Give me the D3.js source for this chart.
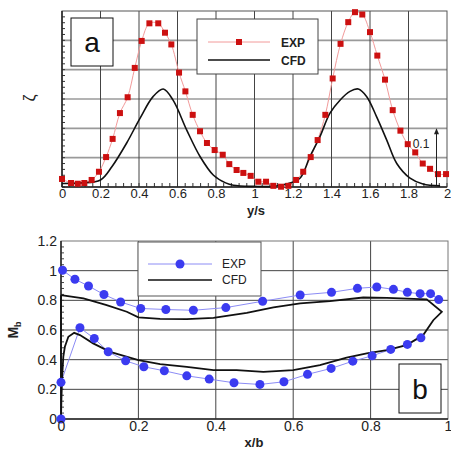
<!DOCTYPE html>
<html>
<head>
<meta charset="utf-8">
<script src="https://cdn.jsdelivr.net/npm/d3@7"></script>
<style>
  body { margin: 0; background: #fff; }
  text { font-family: "Liberation Sans", Arial, sans-serif; }
</style>
</head>
<body>
<svg id="chart" width="451" height="453"></svg>
<script>
// panel a: loss coefficient vs y/s
const aExpY = [0, 0.047, 0.082, 0.116, 0.154, 0.192, 0.229, 0.263, 0.301, 0.341, 0.378, 0.414, 0.454, 0.5, 0.535, 0.568, 0.608, 0.641, 0.679, 0.717, 0.753, 0.793, 0.835, 0.869,
  0.907, 0.942, 0.98, 1.02, 1.06, 1.098, 1.138, 1.176, 1.216, 1.253, 1.292, 1.328, 1.368, 1.406, 1.447, 1.487, 1.522, 1.56, 1.6, 1.638, 1.678, 1.718, 1.758, 1.796, 1.835, 1.874, 1.912, 1.953, 1.995];
const aExpZeta = [0.0137, 0.0068, 0.0056, 0.0068, 0.012, 0.026, 0.051, 0.082, 0.126, 0.153, 0.203, 0.249, 0.279, 0.279, 0.263, 0.243, 0.195, 0.163, 0.123, 0.095, 0.075, 0.063, 0.055, 0.039,
  0.029, 0.024, 0.019, 0.009, 0.009, 0.002, 0.0005, 0.002, 0.012, 0.026, 0.051, 0.08, 0.123, 0.185, 0.244, 0.281, 0.298, 0.294, 0.264, 0.224, 0.183, 0.131, 0.096, 0.073, 0.059, 0.04, 0.031, 0.022, 0.022];
const aCfdY = [0, 0.1, 0.2, 0.26, 0.336, 0.405, 0.473, 0.526, 0.577, 0.648, 0.717, 0.787, 0.85, 0.89, 1.0, 1.1, 1.167, 1.236, 1.288, 1.34, 1.392, 1.444, 1.496, 1.539, 1.583, 1.634, 1.687, 1.739, 1.808, 1.875, 1.964];
const aCfdZeta = [0.006, 0.007, 0.012, 0.035, 0.075, 0.117, 0.154, 0.167, 0.148, 0.097, 0.052, 0.02, 0.007, 0.003, 0.001, 0.001, 0.005, 0.015, 0.052, 0.086, 0.126, 0.148, 0.163, 0.167, 0.154, 0.12, 0.08, 0.04, 0.015, 0.005, 0.002];
const aTicks = [0, 0.2, 0.4, 0.6, 0.8, 1, 1.2, 1.4, 1.6, 1.8, 2];

// panel b: Mach number vs x/b
const bExpX = [0, 0, 0.049, 0.086, 0.122, 0.167, 0.214, 0.267, 0.325, 0.383, 0.447, 0.514, 0.576, 0.637, 0.698, 0.754, 0.804, 0.852, 0.895, 0.93];
const bExpM = [0, 0.247, 0.615, 0.543, 0.453, 0.392, 0.352, 0.325, 0.291, 0.269, 0.244, 0.233, 0.251, 0.301, 0.341, 0.39, 0.426, 0.469, 0.503, 0.547];
const bExpUpX = [0.004, 0.036, 0.071, 0.111, 0.154, 0.206, 0.271, 0.342, 0.426, 0.521, 0.618, 0.699, 0.766, 0.816, 0.859, 0.895, 0.928, 0.955, 0.976];
const bExpUpM = [1.003, 0.942, 0.897, 0.839, 0.789, 0.745, 0.738, 0.733, 0.751, 0.794, 0.836, 0.854, 0.881, 0.89, 0.874, 0.854, 0.845, 0.845, 0.805];
const bCfdX = [0, 0.058, 0.118, 0.17, 0.2, 0.256, 0.325, 0.394, 0.411, 0.48, 0.549, 0.618, 0.695, 0.781, 0.842, 0.945, 0.984,
  0.962, 0.936, 0.893, 0.842, 0.79, 0.738, 0.669, 0.6, 0.523, 0.454, 0.394, 0.325, 0.256, 0.2, 0.127, 0.083, 0.049, 0.034, 0.019, 0.01, 0.006, 0.003, 0.001, 0, 0];
const bCfdM = [0.835, 0.813, 0.768, 0.723, 0.685, 0.675, 0.673, 0.682, 0.689, 0.716, 0.752, 0.779, 0.794, 0.819, 0.817, 0.807, 0.722,
  0.666, 0.566, 0.498, 0.464, 0.442, 0.413, 0.363, 0.33, 0.318, 0.33, 0.33, 0.352, 0.37, 0.397, 0.453, 0.51, 0.566, 0.581, 0.554, 0.487, 0.42, 0.285, 0.128, 0, 0.835];
const bTicksX = [0, 0.2, 0.4, 0.6, 0.8, 1];
const bTicksY = [0, 0.2, 0.4, 0.6, 0.8, 1, 1.2];

const svg = d3.select("#chart");

// ---------- panel a ----------
const xa = d3.scaleLinear().domain([0, 2]).range([62, 447]);
const ya = d3.scaleLinear().domain([0, 0.3]).range([187, 11]);
const ga = svg.append("g");

ga.append("g").selectAll("line").data([0.05, 0.1, 0.15, 0.2, 0.25]).enter().append("line")
  .attr("x1", xa(0)).attr("x2", xa(2))
  .attr("y1", d => ya(d)).attr("y2", d => ya(d))
  .attr("stroke", "#9a9a9a").attr("stroke-width", 1.6);
ga.append("g").selectAll("line").data(aTicks.slice(1, -1)).enter().append("line")
  .attr("x1", d => xa(d)).attr("x2", d => xa(d))
  .attr("y1", ya(0)).attr("y2", ya(0.3))
  .attr("stroke", "#444").attr("stroke-width", 1);

// minor ticks
ga.append("g").selectAll("line").data(d3.range(0, 2.001, 0.04)).enter().append("line")
  .attr("x1", d => xa(d)).attr("x2", d => xa(d))
  .attr("y1", ya(0)).attr("y2", ya(0) - 4)
  .attr("stroke", "#333");
ga.append("g").selectAll("line").data(d3.range(0, 0.3, 0.01)).enter().append("line")
  .attr("x1", xa(0)).attr("x2", xa(0) + 3)
  .attr("y1", d => ya(d)).attr("y2", d => ya(d))
  .attr("stroke", "#333");

ga.append("rect").attr("x", xa(0)).attr("y", ya(0.3))
  .attr("width", xa(2) - xa(0)).attr("height", ya(0) - ya(0.3))
  .attr("fill", "none").attr("stroke", "#555").attr("stroke-width", 1);
ga.append("line").attr("x1", xa(0)).attr("x2", xa(2)).attr("y1", ya(0)).attr("y2", ya(0))
  .attr("stroke", "#222").attr("stroke-width", 1.5);
ga.append("line").attr("x1", xa(0)).attr("x2", xa(0)).attr("y1", ya(0)).attr("y2", ya(0.3))
  .attr("stroke", "#222").attr("stroke-width", 1.5);

const lineA = d3.line().curve(d3.curveCatmullRom);
ga.append("path")
  .attr("d", lineA(aExpY.map((d, i) => [xa(d), ya(aExpZeta[i])])))
  .attr("fill", "none").attr("stroke", "#f29a9a").attr("stroke-width", 1);
ga.append("path")
  .attr("d", lineA(aCfdY.map((d, i) => [xa(d), ya(aCfdZeta[i])])))
  .attr("fill", "none").attr("stroke", "#111").attr("stroke-width", 1.6);
ga.append("g").selectAll("rect").data(aExpY).enter().append("rect")
  .attr("x", (d) => xa(d) - 3).attr("y", (d, i) => ya(aExpZeta[i]) - 3)
  .attr("width", 6).attr("height", 6).attr("fill", "#cc1010");

ga.append("g").attr("transform", "translate(0," + ya(0) + ")")
  .call(d3.axisBottom(xa).tickValues(aTicks).tickSize(0).tickPadding(2).tickFormat(d3.format("")))
  .call(g => g.select(".domain").remove())
  .selectAll("text").attr("font-size", 13).attr("fill", "#222");

ga.append("text").attr("x", 256).attr("y", 215).attr("text-anchor", "middle")
  .attr("font-size", 13).attr("font-weight", "bold").attr("fill", "#222").text("y/s");
ga.append("text").attr("transform", "translate(35,98) rotate(-90)").attr("text-anchor", "middle")
  .attr("font-family", "DejaVu Serif, serif").attr("font-size", 16).attr("fill", "#222").text("ζ");

// scale bar 0.1
const barX = 436.5;
ga.append("line").attr("x1", barX).attr("x2", barX).attr("y1", ya(0.1) + 1).attr("y2", ya(0) - 2)
  .attr("stroke", "#222").attr("stroke-width", 1);
ga.append("path").attr("d", `M${barX},${ya(0.1)} l-2.5,6 l5,0 z`).attr("fill", "#222");
ga.append("text").attr("x", 421).attr("y", 148).attr("text-anchor", "middle")
  .attr("font-size", 12).attr("fill", "#222").text("0.1");

// legend a
ga.append("rect").attr("x", 197).attr("y", 19).attr("width", 121).attr("height", 55)
  .attr("fill", "#fff").attr("stroke", "#444");
ga.append("line").attr("x1", 208).attr("x2", 270).attr("y1", 42).attr("y2", 42).attr("stroke", "#f29a9a");
ga.append("rect").attr("x", 236).attr("y", 39).attr("width", 6).attr("height", 6).attr("fill", "#cc1010");
ga.append("line").attr("x1", 208).attr("x2", 270).attr("y1", 60).attr("y2", 60).attr("stroke", "#111").attr("stroke-width", 1.6);
ga.append("text").attr("x", 281).attr("y", 47).attr("font-size", 12).attr("font-weight", "bold").attr("fill", "#222").text("EXP");
ga.append("text").attr("x", 281).attr("y", 65).attr("font-size", 12).attr("font-weight", "bold").attr("fill", "#222").text("CFD");

// "a" label
ga.append("rect").attr("x", 71).attr("y", 18).attr("width", 42).attr("height", 48)
  .attr("fill", "#fff").attr("stroke", "#111");
ga.append("text").attr("x", 92).attr("y", 52).attr("text-anchor", "middle")
  .attr("font-family", "Liberation Serif, serif").attr("font-size", 28).attr("fill", "#111").text("a");

// ---------- panel b ----------
const xb = d3.scaleLinear().domain([0, 1]).range([61, 448]);
const yb = d3.scaleLinear().domain([0, 1.2]).range([419, 241]);
const gb = svg.append("g");

gb.append("g").selectAll("line").data(bTicksY.slice(1, -1)).enter().append("line")
  .attr("x1", xb(0)).attr("x2", xb(1))
  .attr("y1", d => yb(d)).attr("y2", d => yb(d))
  .attr("stroke", "#444").attr("stroke-width", 1);
gb.append("g").selectAll("line").data(bTicksX.slice(1, -1)).enter().append("line")
  .attr("x1", d => xb(d)).attr("x2", d => xb(d))
  .attr("y1", yb(0)).attr("y2", yb(1.2))
  .attr("stroke", "#444").attr("stroke-width", 1);

gb.append("g").selectAll("line").data(d3.range(0, 1.2, 0.04)).enter().append("line")
  .attr("x1", xb(0)).attr("x2", xb(0) + 3)
  .attr("y1", d => yb(d)).attr("y2", d => yb(d))
  .attr("stroke", "#444");

gb.append("rect").attr("x", xb(0)).attr("y", yb(1.2))
  .attr("width", xb(1) - xb(0)).attr("height", yb(0) - yb(1.2))
  .attr("fill", "none").attr("stroke", "#777").attr("stroke-width", 1);
gb.append("line").attr("x1", xb(0)).attr("x2", xb(1)).attr("y1", yb(0)).attr("y2", yb(0))
  .attr("stroke", "#222").attr("stroke-width", 1.5);
gb.append("line").attr("x1", xb(0)).attr("x2", xb(0)).attr("y1", yb(0)).attr("y2", yb(1.2))
  .attr("stroke", "#222").attr("stroke-width", 1.5);

// legend b (white box covers grid)
gb.append("rect").attr("x", 138).attr("y", 242).attr("width", 123).attr("height", 54)
  .attr("fill", "#fff").attr("stroke", "#555");
gb.append("line").attr("x1", 148).attr("x2", 212).attr("y1", 264).attr("y2", 264).attr("stroke", "#8c8cf5");
gb.append("circle").attr("cx", 180).attr("cy", 264).attr("r", 4.5).attr("fill", "#3b3bf0");
gb.append("line").attr("x1", 148).attr("x2", 212).attr("y1", 280).attr("y2", 280).attr("stroke", "#111").attr("stroke-width", 1.6);
gb.append("text").attr("x", 222).attr("y", 268).attr("font-size", 12).attr("fill", "#222").text("EXP");
gb.append("text").attr("x", 222).attr("y", 284).attr("font-size", 12).attr("fill", "#222").text("CFD");

const lineB = d3.line();
gb.append("path")
  .attr("d", lineB(bExpX.map((d, i) => [xb(d), yb(bExpM[i])])))
  .attr("fill", "none").attr("stroke", "#8c8cf5").attr("stroke-width", 1);
gb.append("path")
  .attr("d", lineB(bExpUpX.map((d, i) => [xb(d), yb(bExpUpM[i])])))
  .attr("fill", "none").attr("stroke", "#8c8cf5").attr("stroke-width", 1);
gb.append("path")
  .attr("d", lineB(bCfdX.map((d, i) => [xb(d), yb(bCfdM[i])])))
  .attr("fill", "none").attr("stroke", "#111").attr("stroke-width", 1.8);
gb.append("g").selectAll("circle").data(bExpX.concat(bExpUpX)).enter().append("circle")
  .attr("cx", d => xb(d))
  .attr("cy", (d, i) => yb(bExpM.concat(bExpUpM)[i]))
  .attr("r", 4.5).attr("fill", "#3b3bf0");

gb.append("g").attr("transform", "translate(0," + yb(0) + ")")
  .call(d3.axisBottom(xb).tickValues(bTicksX).tickSize(0).tickPadding(2).tickFormat(d3.format("")))
  .call(g => g.select(".domain").remove())
  .selectAll("text").attr("font-size", 14).attr("fill", "#222");
gb.append("g").attr("transform", "translate(" + xb(0) + ",0)")
  .call(d3.axisLeft(yb).tickValues(bTicksY).tickSize(0).tickPadding(4).tickFormat(d3.format("")))
  .call(g => g.select(".domain").remove())
  .selectAll("text").attr("font-size", 14).attr("fill", "#222");

gb.append("text").attr("x", 254).attr("y", 447).attr("text-anchor", "middle")
  .attr("font-size", 13).attr("font-weight", "bold").attr("fill", "#222").text("x/b");
const mb = gb.append("text").attr("transform", "translate(18,330) rotate(-90)").attr("text-anchor", "middle")
  .attr("font-size", 14).attr("font-weight", "bold").attr("fill", "#222");
mb.append("tspan").text("M");
mb.append("tspan").attr("font-size", 9).attr("dy", 3).text("b");

// "b" label
gb.append("rect").attr("x", 399).attr("y", 364).attr("width", 42).attr("height", 49)
  .attr("fill", "#fff").attr("stroke", "#111");
gb.append("text").attr("x", 420).attr("y", 399).attr("text-anchor", "middle")
  .attr("font-family", "Liberation Serif, serif").attr("font-size", 28).attr("fill", "#111").text("b");
</script>
</body>
</html>
